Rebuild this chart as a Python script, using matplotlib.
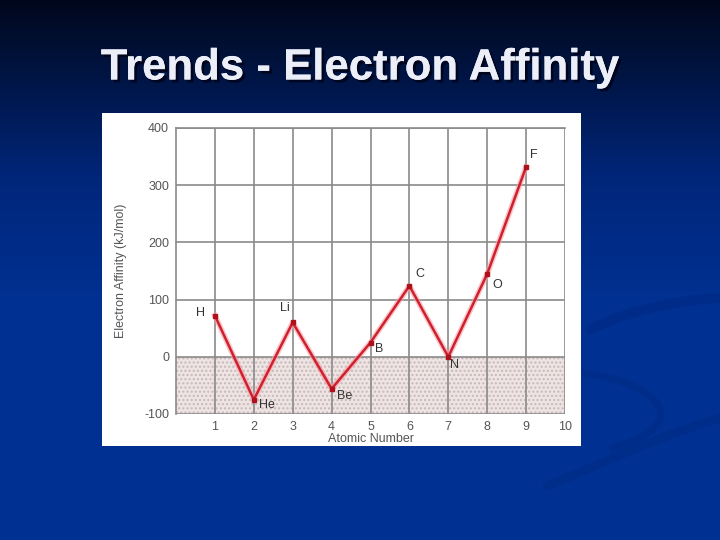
import numpy as np
import matplotlib
matplotlib.use("Agg")
import matplotlib.pyplot as plt
from matplotlib.path import Path
from matplotlib.patches import PathPatch
import matplotlib.patheffects as pe

plt.rcParams["axes.unicode_minus"] = False

# Data
atomic_numbers = [1, 2, 3, 4, 5, 6, 7, 8, 9]
elements = ["H", "He", "Li", "Be", "B", "C", "N", "O", "F"]
affinity = [72, -75, 60, -56, 25, 124, 0, 145, 332]
x_ticks = [1, 2, 3, 4, 5, 6, 7, 8, 9, 10]
y_ticks = [-100, 0, 100, 200, 300, 400]
title = "Trends - Electron Affinity"

# label offsets in points (dx, dy, ha, va)
offsets = {
    "H": (-7, 2, "right", "center"),
    "He": (4, -4, "left", "center"),
    "Li": (-2, 6, "right", "bottom"),
    "Be": (4, -5, "left", "center"),
    "B": (3, -5, "left", "center"),
    "C": (4, 4, "left", "bottom"),
    "N": (1, -6, "left", "center"),
    "O": (4, -8, "left", "center"),
    "F": (3, 4, "left", "bottom"),
}

FONT = "Liberation Sans"
fig = plt.figure(figsize=(7.2, 5.4), dpi=100)

# Background gradient
bg = fig.add_axes([0, 0, 1, 1])
bg.set_axis_off()
h = np.linspace(0, 1, 256)
top = np.array([0.0, 0.03, 0.11])
mid = np.array([0.0, 0.15, 0.48])
bot = np.array([0.0, 0.19, 0.57])
cols = np.zeros((256, 1, 3))
for i, t in enumerate(h):
    if t < 0.33:
        c = top + (mid - top) * (t / 0.33)
    elif t < 0.55:
        c = mid + (bot - mid) * ((t - 0.33) / 0.22)
    else:
        c = bot
    cols[i, 0] = c
bg.imshow(cols, aspect="auto", extent=[0, 1, 1, 0])
bg.set_xlim(0, 1)
bg.set_ylim(1, 0)

# faint decorative swooshes (darker bands)
def swoosh(pts, color, lw, alpha):
    codes = [Path.MOVETO] + [Path.CURVE4] * (len(pts) - 1)
    bg.add_patch(PathPatch(Path(pts, codes), facecolor="none", edgecolor=color,
                           lw=lw, alpha=alpha, capstyle="round"))

swoosh([(0.82, 0.61), (0.88, 0.57), (0.95, 0.555), (1.01, 0.55)], "#002a86", 7, 0.7)
swoosh([(0.80, 0.69), (0.90, 0.70), (0.98, 0.78), (0.85, 0.83)], "#002a86", 5, 0.6)
swoosh([(0.76, 0.90), (0.85, 0.85), (0.93, 0.80), (1.01, 0.77)], "#002a86", 6, 0.6)

fig.text(0.5, 1 - 68 / 540, title, ha="center", va="center", color="#eceef8",
         fontsize=31.5, fontweight="bold", family=FONT,
         path_effects=[pe.withSimplePatchShadow(offset=(2, -2), shadow_rgbFace="#000010", alpha=0.7),
                       pe.Normal()])

# White box
box = fig.add_axes([102 / 720, 1 - 446 / 540, 479 / 720, 333 / 540])
box.set_facecolor("white")
box.set_xticks([]); box.set_yticks([])
for s in box.spines.values():
    s.set_visible(False)

ax = fig.add_axes([176 / 720, 1 - 414 / 540, 389 / 720, 286 / 540])
ax.set_facecolor("white")
ax.set_xlim(0, 10)
ax.set_ylim(-100, 400)
ax.axhspan(-100, 0, facecolor="#eee4e4", edgecolor="#c8b8b8", hatch="....", linewidth=0, zorder=0)
ax.set_xticks(x_ticks)
ax.set_yticks(y_ticks)
ax.grid(True, color="#8a8a8a", linewidth=1.2, zorder=1)
for s in ax.spines.values():
    s.set_color("#8a8a8a")
    s.set_linewidth(1.2)
ax.spines["right"].set_visible(False)
ax.spines["bottom"].set_visible(False)
ax.tick_params(length=0, colors="#555555", labelsize=9, pad=5)
for lab in ax.get_xticklabels() + ax.get_yticklabels():
    lab.set_family(FONT)
ax.set_xlabel("Atomic Number", color="#555555", fontsize=9, labelpad=0, family=FONT)
ax.set_ylabel("Electron Affinity (kJ/mol)", color="#555555", fontsize=9, labelpad=12, family=FONT)

ax.plot(atomic_numbers, affinity, color="#f4a0a8", linewidth=4, alpha=0.6, zorder=3, clip_on=False)
ax.plot(atomic_numbers, affinity, color="#d0202e", linewidth=1.8, zorder=4,
        marker="s", markersize=3.5, markerfacecolor="#b0101c", markeredgecolor="#b0101c", clip_on=False)

for xv, yv, el in zip(atomic_numbers, affinity, elements):
    dx, dy, ha, va = offsets[el]
    ax.annotate(el, (xv, yv), xytext=(dx, dy), textcoords="offset points",
                ha=ha, va=va, fontsize=9, color="#333333", zorder=5, family=FONT)

fig.savefig("out.png", dpi=100)
